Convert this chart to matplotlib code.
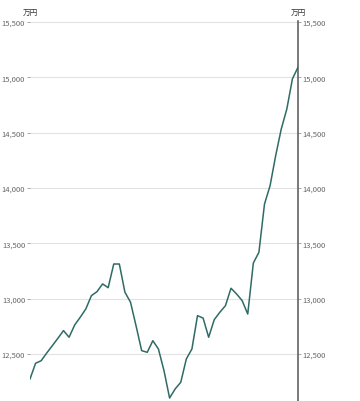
import matplotlib
matplotlib.use('Agg')
import matplotlib.pyplot as plt
import numpy as np

plt.rcParams['font.family'] = ['Noto Sans CJK JP', 'DejaVu Sans']

# 値 (万円)
values = [
    12274, 12416, 12439, 12509, 12575, 12642, 12711, 12651, 12762, 12832,
    12907, 13027, 13063, 13133, 13099, 13313, 13313, 13058, 12968, 12753,
    12530, 12515, 12620, 12545, 12349, 12102, 12184, 12244, 12455, 12545,
    12846, 12825, 12651, 12810, 12877, 12936, 13094, 13042, 12982, 12861,
    13322, 13419, 13855, 14021, 14292, 14533, 14714, 14986, 15091,
]
yticks = [12500, 13000, 13500, 14000, 14500, 15000, 15500]
ytick_labels = ['12,500', '13,000', '13,500', '14,000', '14,500', '15,000', '15,500']
unit = '万円'

line_color = '#2f6b66'
text_color = '#666666'

fig = plt.figure(figsize=(3.6, 4.02), dpi=100)
ax = fig.add_axes([30 / 360, 0, 268 / 360, 380 / 402])

x = np.arange(len(values))
ax.plot(x, values, color=line_color, linewidth=1.1, solid_joinstyle='round')

ax.set_xlim(0, len(values) - 1)
ax.set_ylim(12075, 15509)
ax.set_xticks([])

ax.set_yticks(yticks)
ax.set_yticklabels(ytick_labels)
ax.tick_params(axis='y', which='both', left=True, right=True, labelleft=True, labelright=True,
               length=2, width=0.6, color='#999999', labelsize=5.5, labelcolor=text_color, pad=1.5)
ax.grid(axis='y', color='#e2e2e2', linewidth=0.8)
ax.set_axisbelow(True)

for s in ['left', 'top', 'bottom']:
    ax.spines[s].set_visible(False)
ax.spines['right'].set_color('#555555')
ax.spines['right'].set_linewidth(1.1)

# 単位
ax.text(0, 1.012, unit, transform=ax.transAxes, ha='center', va='bottom',
        fontsize=5.5, color='#333333')
ax.text(1, 1.012, unit, transform=ax.transAxes, ha='center', va='bottom',
        fontsize=5.5, color='#333333')

fig.savefig('out.png', dpi=100)
